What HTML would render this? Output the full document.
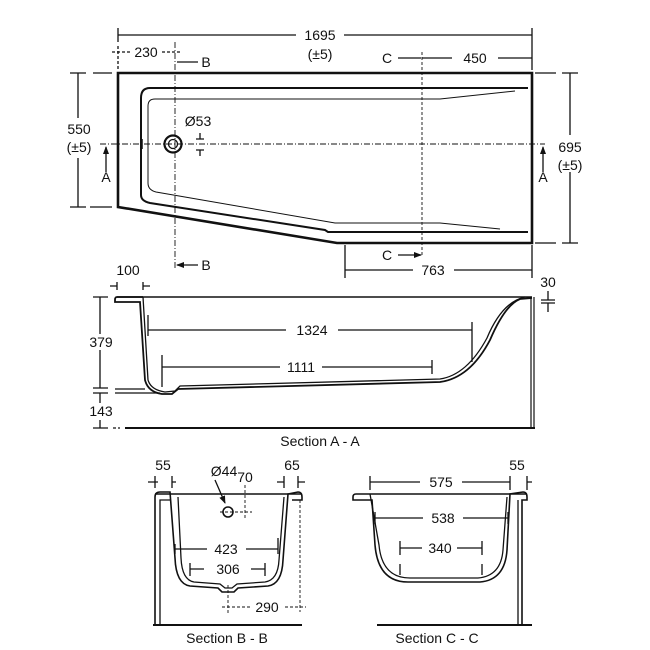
<!DOCTYPE html>
<html><head><meta charset="utf-8"><style>
html,body{margin:0;padding:0;background:#fff}
svg{display:block}
text{font-family:"Liberation Sans",sans-serif;font-size:14px;fill:#111}
</style></head><body>
<svg width="650" height="650" viewBox="0 0 650 650" xmlns="http://www.w3.org/2000/svg">
<defs>
<marker id="ar" markerWidth="8" markerHeight="6" refX="7" refY="3" orient="auto" markerUnits="userSpaceOnUse"><path d="M0,0 L8,3 L0,6 z" fill="#111"/></marker>
</defs>
<g stroke="#111" fill="none" stroke-width="1.3">
<!-- PLAN -->
<path d="M118,73 L532,73 L532,243 L337,243 L118,207 Z" stroke-width="2.6"/>
<path d="M150,88 L528,88 M150,88 Q141,88 141,98 L141,195 Q141,201 150,203 L325,230 L328,232 L528,232" stroke-width="2"/>
<path d="M155,99 L440,99 L515,91 M155,99 Q148,99 148,106 L148,183 Q148,190 156,192 L335,223 L440,223 L500,229" stroke-width="1"/>
<line x1="100" y1="144" x2="545" y2="144" stroke-dasharray="6,2,1,2" stroke-width="0.9"/>
<circle cx="173" cy="144" r="8.5" stroke-width="2.2"/><circle cx="173" cy="144" r="4.5"/>
<line x1="142" y1="139" x2="142" y2="149" stroke-width="1.5"/>
<path d="M196,139 L204,139 M200,133 L200,139 M196,150 L204,150 M200,150 L200,156"/>
<!-- 1695 -->
<path d="M118,28 L118,42 M532,28 L532,70 M118,35 L296,35 M344,35 L532,35"/>
<path d="M112,52 L130,52 M162,52 L182,52 M118,46 L118,70" stroke-dasharray="3,2"/>
<line x1="175" y1="42" x2="175" y2="268" stroke-dasharray="6,2,1,2" stroke-width="0.9"/>
<path d="M198,62 L177,62 M198,265 L177,265" marker-end="url(#ar)"/>
<path d="M398,58 L421,58 M398,255 L421,255" marker-end="url(#ar)"/>
<line x1="422" y1="52" x2="422" y2="255" stroke-dasharray="3,2" stroke-width="0.9"/>
<path d="M422,58 L452,58 M498,58 L532,58"/>
<!-- 550 -->
<path d="M70,73 L86,73 M70,207 L86,207 M78,73 L78,118 M78,158 L78,207 M93,73 L112,73 M90,207 L112,207"/>
<path d="M106,172 L106,147" marker-end="url(#ar)"/>
<path d="M543,172 L543,147" marker-end="url(#ar)"/>
<!-- 695 -->
<path d="M562,73 L578,73 M562,243 L578,243 M570,73 L570,135 M570,172 L570,243 M535,73 L556,73 M535,243 L556,243"/>
<!-- 763 -->
<path d="M345,245 L345,278 M532,245 L532,278 M345,270 L413,270 M454,270 L532,270"/>
<!-- SECTION A-A -->
<line x1="117" y1="297" x2="532" y2="297" stroke-width="1.6"/>
<line x1="125" y1="428" x2="535" y2="428" stroke-width="2"/>
<path d="M113,428 L120,428" stroke-dasharray="3,2"/>
<path d="M143,297 L117,297 Q115,297 115,300 L115,302 L140,302 L145,380 Q148,392 162,394 L172,394 L178,389 L440,382 Q470,378 490,340 Q505,305 520,299 L532,298" stroke-width="1.8"/>
<path d="M143,297 L148,380 Q151,390 165,392 L175,391 L180,386 L440,379 Q467,375 487,338 Q502,302 525,297"/>
<path d="M531,297 L531,428 M534,297 L534,428" stroke-width="1.2"/>
<path d="M117,290 L117,282 M143,290 L143,282 M110,286 L117,286 M143,286 L150,286"/>
<path d="M93,297 L108,297 M100,297 L100,334 M100,350 L100,388 M93,388 L108,388 M93,393 L108,393 M100,393 L100,403 M100,420 L100,428 M93,428 L108,428"/>
<path d="M115,389 L145,389 M115,393 L160,393"/>
<path d="M148,315 L148,336 M148,330 L286,330 M338,330 L472,330 M472,322 L472,362"/>
<path d="M162,355 L162,387 M162,367 L280,367 M322,367 L432,367 M432,360 L432,374"/>
<path d="M541,300 L555,300 M541,303 L555,303 M548,291 L548,300 M548,303 L548,312"/>
<!-- SECTION B-B -->
<line x1="155" y1="494" x2="301" y2="494" stroke-width="1.6"/>
<line x1="153" y1="625" x2="302" y2="625" stroke-width="2"/>
<path d="M155,625 L155,497 Q155,492 160,492 L170,492 L175,558 Q176,584 190,586 L218,588 L222,592 L234,592 L238,588 L268,586 Q282,584 283,560 L288,494 L298,492 Q302,492 302,497 L302,500 L292,500" stroke-width="1.6"/>
<path d="M160,625 L160,500 L170,500 M178,497 L181,558 Q182,580 194,582 L220,584 L225,588 L232,588 L237,584 L265,582 Q278,580 279,560 L284,497"/>
<line x1="300" y1="500" x2="300" y2="612" stroke-dasharray="3,2" stroke-width="0.9"/>
<path d="M148,482 L158,482 M172,482 L176,482 M155,476 L155,488 M172,476 L172,488"/>
<path d="M277,482 L284,482 M298,482 L305,482 M284,476 L284,488 M298,476 L298,488"/>
<path d="M215,480 L225,503" marker-end="url(#ar)"/>
<circle cx="228" cy="512" r="5" stroke-width="1.6"/>
<path d="M220,512 L252,512 M245,485 L245,520" stroke-dasharray="3,2" stroke-width="0.9"/>
<path d="M175,544 L175,554 M175,549 L207,549 M246,549 L278,549 M278,538 L278,554"/>
<path d="M190,563 L190,576 M190,569 L204,569 M251,569 L265,569 M265,563 L265,576"/>
<path d="M228,585 L228,615 M222,607 L250,607 M285,607 L306,607" stroke-dasharray="3,2" stroke-width="0.9"/>
<!-- SECTION C-C -->
<line x1="370" y1="494" x2="527" y2="494" stroke-width="1.6"/>
<line x1="377" y1="625" x2="532" y2="625" stroke-width="2"/>
<path d="M370,494 L356,494 Q353,494 353,497 L353,500 L372,500 L375,545 Q378,582 408,582 L480,582 Q505,580 507,550 L510,494 L523,492 Q527,492 527,497 L527,500 L522,500 L522,625" stroke-width="1.6"/>
<path d="M370,494 L379,545 Q382,578 410,578 L478,578 Q501,576 503,550 L507,497 M518,500 L518,625"/>
<path d="M370,476 L370,490 M370,482 L420,482 M462,482 L510,482 M510,476 L510,490 M527,476 L527,490 M527,482 L532,482"/>
<path d="M375,512 L375,524 M375,518 L423,518 M463,518 L508,518 M508,512 L508,524"/>
<path d="M400,541 L400,555 M400,548 L422,548 M457,548 L482,548 M482,541 L482,555 M400,564 L400,575 M482,564 L482,575"/>
</g>
<g text-anchor="middle">
<text x="320" y="40">1695</text><text x="320" y="59">(±5)</text>
<text x="146" y="57">230</text>
<text x="206" y="67">B</text><text x="206" y="270">B</text>
<text x="387" y="63">C</text><text x="387" y="260">C</text>
<text x="475" y="63">450</text>
<text x="79" y="134">550</text><text x="79" y="152">(±5)</text>
<text x="106" y="182">A</text><text x="543" y="182">A</text>
<text x="570" y="152">695</text><text x="570" y="170">(±5)</text>
<text x="198" y="126">Ø53</text>
<text x="433" y="275">763</text>
<text x="128" y="275">100</text>
<text x="548" y="287">30</text>
<text x="101" y="347">379</text><text x="101" y="416">143</text>
<text x="312" y="335">1324</text>
<text x="301" y="372">1111</text>
<text x="320" y="446">Section A - A</text>
<text x="163" y="470">55</text>
<text x="224" y="476">Ø44</text>
<text x="245" y="482">70</text>
<text x="292" y="470">65</text>
<text x="226" y="554">423</text>
<text x="228" y="574">306</text>
<text x="267" y="612">290</text>
<text x="227" y="643">Section B - B</text>
<text x="441" y="487">575</text>
<text x="517" y="470">55</text>
<text x="443" y="523">538</text>
<text x="440" y="553">340</text>
<text x="437" y="643">Section C - C</text>
</g>
</svg>
</body></html>
